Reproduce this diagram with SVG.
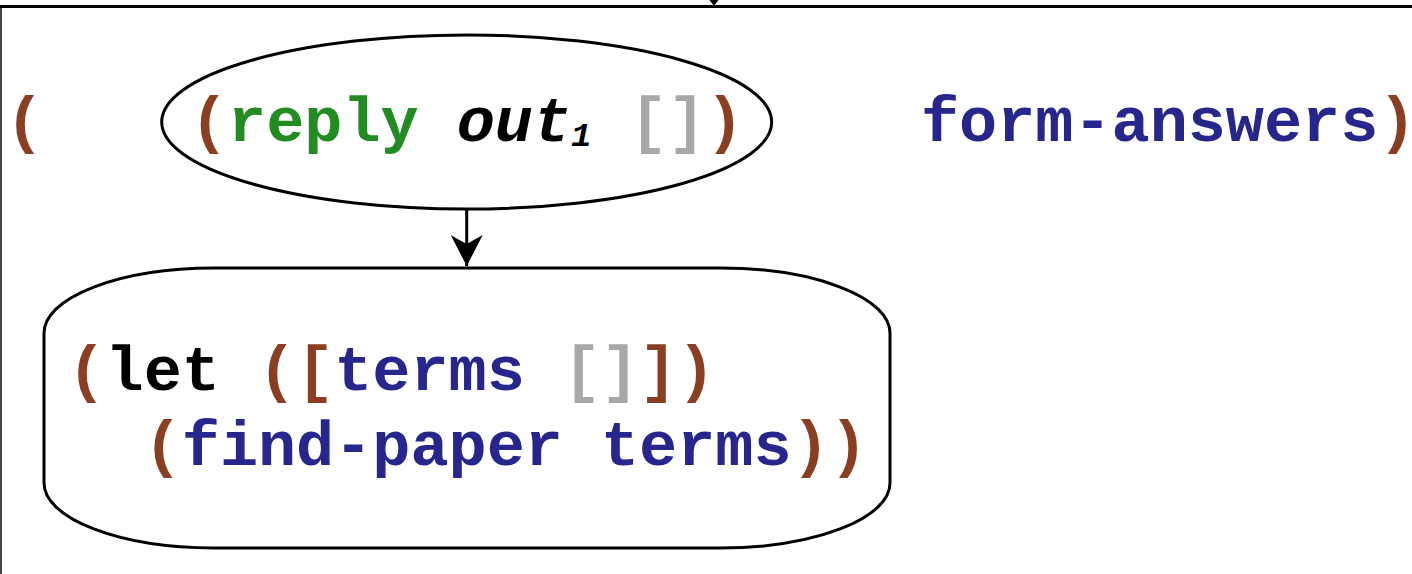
<svg xmlns="http://www.w3.org/2000/svg" width="1412" height="574" viewBox="0 0 1412 574">
  <style>
    .code { font-family: "Liberation Mono", "Courier New", monospace; font-size: 63.5px; font-weight: bold; }
    .br { fill: #8B3F22; }
    .gr { fill: #228B22; }
    .bl { fill: #26268C; }
    .gy { fill: #A8A8A8; }
    .bk { fill: #000000; }
    .shape { fill: #ffffff; stroke: #000000; stroke-width: 3; }
  </style>
  <defs>
    <marker id="arrow" markerWidth="32" markerHeight="32" viewBox="0 0 32 32" refX="16" refY="31" orient="0" markerUnits="userSpaceOnUse">
      <path d="M16,31 L0,0 L16,9 L32,0 Z" fill="#000"/>
    </marker>
  </defs>
  <rect x="0" y="0" width="1412" height="574" fill="#ffffff"/>
  <g id="frame">
    <line x1="1" y1="6" x2="1" y2="574" stroke="#444444" stroke-width="2"/>
    <line x1="0" y1="6.5" x2="1412" y2="6.5" stroke="#000000" stroke-width="3"/>
    <path d="M709.5,0 L718.5,0 L714,6 Z" fill="#000000"/>
  </g>
  <g id="outer-text">
    <text class="code" xml:space="preserve" y="141"><tspan class="br" x="5.5">(</tspan></text>
    <text class="code" xml:space="preserve" y="141" x="921"><tspan class="bl">form-answers</tspan><tspan class="br">)</tspan></text>
  </g>
  <g id="connectors">
    <line x1="466.7" y1="209" x2="466.7" y2="266" stroke="#000" stroke-width="3" marker-end="url(#arrow)"/>
  </g>
  <g id="node-reply">
    <ellipse class="shape" cx="466.7" cy="122" rx="305" ry="87"/>
    <text class="code" xml:space="preserve" y="141" x="190"><tspan class="br">(</tspan><tspan class="gr">reply</tspan><tspan> </tspan><tspan class="bk" font-style="italic">out</tspan><tspan class="bk" font-style="italic" font-size="34" dy="5">1</tspan><tspan dy="-5"> </tspan><tspan class="gy">[]</tspan><tspan class="br">)</tspan></text>
  </g>
  <g id="node-let">
    <rect class="shape" x="44" y="268" width="846" height="280" rx="170" ry="65"/>
    <text class="code" xml:space="preserve" y="390" x="67.5"><tspan class="br">(</tspan><tspan class="bk">let</tspan><tspan> </tspan><tspan class="br">([</tspan><tspan class="bl">terms</tspan><tspan> </tspan><tspan class="gy">[]</tspan><tspan class="br">])</tspan></text>
    <text class="code" xml:space="preserve" y="465" x="143.7"><tspan class="br">(</tspan><tspan class="bl">find-paper terms</tspan><tspan class="br">))</tspan></text>
  </g>
</svg>
